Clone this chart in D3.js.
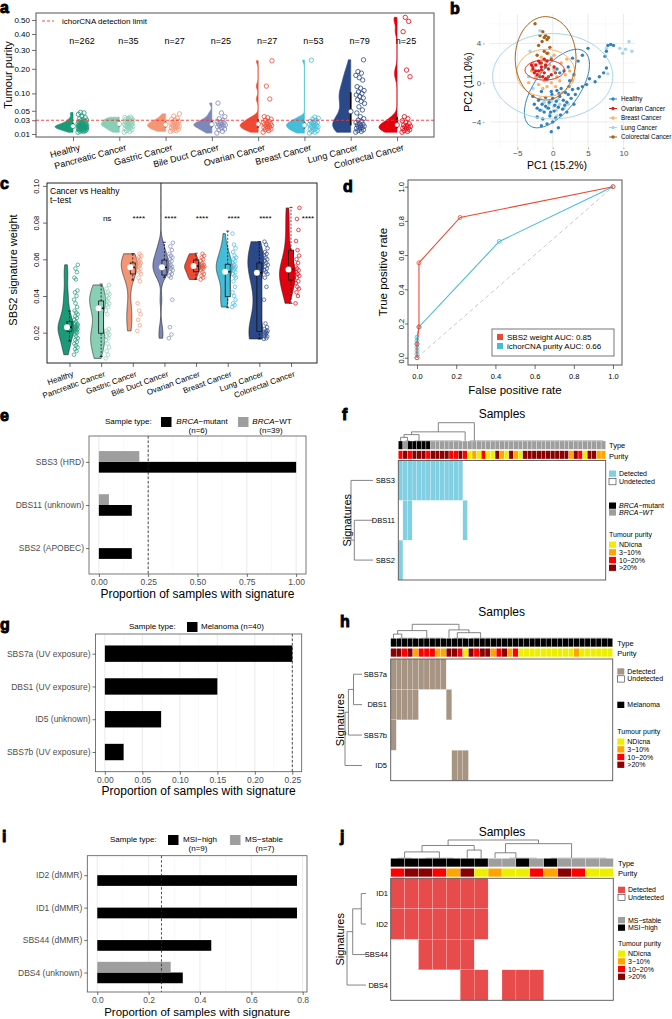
<!DOCTYPE html>
<html>
<head>
<meta charset="utf-8">
<script src="https://cdn.jsdelivr.net/npm/d3@7/dist/d3.min.js"></script>
<style>
  body { margin: 0; background: #fff; }
  svg text { font-family: "Liberation Sans", Arial, Helvetica, sans-serif; }
</style>
</head>
<body>
<div id="figure"></div>
<script>
// ---------------- data: panels a and c ----------------
var cats = ["Healthy", "Pancreatic Cancer", "Gastric Cancer", "Bile Duct Cancer",
            "Ovarian Cancer", "Breast Cancer", "Lung Cancer", "Colorectal Cancer"];
var catColors = ["#1b9a7a", "#88cfb6", "#f29676", "#7d88ba", "#ec4a33", "#45bcd8", "#2b4888", "#e3000f"];
var nLabels = ["n=262", "n=35", "n=27", "n=25", "n=27", "n=53", "n=79", "n=25"];
var purityTicks = [0.01, 0.03, 0.05, 0.10, 0.20, 0.30, 0.40, 0.50];
var ichorLimit = 0.03;

var purityHealthy = [0.012, 0.013, 0.013, 0.014, 0.014, 0.015, 0.015, 0.015, 0.016, 0.016, 0.016, 0.017, 0.017,
    0.017, 0.018, 0.018, 0.018, 0.018, 0.019, 0.019, 0.019, 0.019, 0.02, 0.02, 0.02, 0.02, 0.021, 0.021, 0.021,
    0.022, 0.022, 0.022, 0.023, 0.023, 0.024, 0.024, 0.025, 0.025, 0.026, 0.027, 0.028, 0.029, 0.03, 0.031,
    0.033, 0.035, 0.038, 0.042, 0.045, 0.046];
var purityPancreatic = [0.012, 0.013, 0.014, 0.015, 0.016, 0.017, 0.018, 0.019, 0.02, 0.02, 0.021, 0.022, 0.022,
    0.023, 0.024, 0.025, 0.025, 0.026, 0.027, 0.028, 0.029, 0.03, 0.031, 0.032, 0.033, 0.034, 0.035, 0.036];
var purityGastric = [0.013, 0.014, 0.015, 0.016, 0.017, 0.018, 0.019, 0.02, 0.02, 0.021, 0.022, 0.023, 0.024,
    0.025, 0.026, 0.027, 0.028, 0.03, 0.032, 0.034, 0.038, 0.043];
var purityBile = [0.011, 0.013, 0.015, 0.016, 0.018, 0.019, 0.02, 0.021, 0.022, 0.023, 0.024, 0.025, 0.026,
    0.028, 0.03, 0.033, 0.037, 0.045, 0.07];
var purityOvarian = [0.012, 0.014, 0.015, 0.016, 0.017, 0.018, 0.019, 0.02, 0.021, 0.022, 0.023, 0.024, 0.025,
    0.026, 0.028, 0.03, 0.032, 0.035, 0.037, 0.082, 0.126, 0.24];
var purityBreast = [0.011, 0.012, 0.013, 0.014, 0.015, 0.016, 0.017, 0.018, 0.019, 0.02, 0.02, 0.021, 0.022,
    0.023, 0.024, 0.025, 0.026, 0.027, 0.028, 0.03, 0.032, 0.034, 0.036, 0.243];
var purityLung = [0.012, 0.013, 0.014, 0.015, 0.016, 0.017, 0.018, 0.019, 0.02, 0.021, 0.022, 0.023, 0.024,
    0.026, 0.028, 0.03, 0.033, 0.037, 0.045, 0.052, 0.06, 0.069, 0.075, 0.08, 0.085, 0.09, 0.095, 0.1, 0.105,
    0.11, 0.118, 0.124, 0.15, 0.16, 0.17, 0.18, 0.187, 0.245];
var purityColorectal = [0.012, 0.013, 0.014, 0.015, 0.016, 0.017, 0.018, 0.019, 0.02, 0.021, 0.022, 0.024,
    0.026, 0.029, 0.033, 0.037, 0.164, 0.194, 0.416, 0.49, 0.52];
var puritySets = [purityHealthy, purityPancreatic, purityGastric, purityBile,
                  purityOvarian, purityBreast, purityLung, purityColorectal];

var weightTicks = [0.02, 0.04, 0.06, 0.08, 0.10];
var weightHealthy = [0.008, 0.01, 0.011, 0.012, 0.013, 0.014, 0.015, 0.016, 0.017, 0.018, 0.019, 0.02, 0.02,
    0.021, 0.021, 0.022, 0.022, 0.022, 0.023, 0.023, 0.023, 0.024, 0.024, 0.025, 0.025, 0.026, 0.027, 0.028,
    0.029, 0.03, 0.031, 0.032, 0.034, 0.036, 0.038, 0.04, 0.042, 0.043, 0.049, 0.05, 0.053, 0.055, 0.057];
var weightPancreatic = [0.006, 0.008, 0.01, 0.012, 0.014, 0.016, 0.017, 0.018, 0.019, 0.02, 0.021, 0.022, 0.03,
    0.032, 0.034, 0.035, 0.036, 0.037, 0.038, 0.039, 0.04, 0.041, 0.042, 0.044, 0.046];
var weightGastric = [0.021, 0.024, 0.027, 0.03, 0.032, 0.036, 0.048, 0.05, 0.052, 0.053, 0.054, 0.055, 0.056,
    0.056, 0.057, 0.058, 0.058, 0.059, 0.06, 0.06, 0.061, 0.062, 0.063];
var weightBile = [0.017, 0.019, 0.023, 0.038, 0.05, 0.051, 0.052, 0.053, 0.054, 0.055, 0.056, 0.056, 0.057,
    0.058, 0.059, 0.06, 0.061, 0.062, 0.063, 0.065, 0.067, 0.069, 0.115];
var weightOvarian = [0.049, 0.05, 0.051, 0.052, 0.053, 0.054, 0.055, 0.055, 0.056, 0.056, 0.057, 0.057, 0.058,
    0.059, 0.06, 0.061, 0.062, 0.063];
var weightBreast = [0.034, 0.035, 0.036, 0.038, 0.04, 0.042, 0.045, 0.048, 0.05, 0.051, 0.052, 0.053, 0.054,
    0.055, 0.055, 0.056, 0.056, 0.057, 0.058, 0.059, 0.06, 0.061, 0.062, 0.064, 0.066, 0.068, 0.074];
var weightLung = [0.0166, 0.017, 0.018, 0.018, 0.019, 0.019, 0.02, 0.02, 0.021, 0.021, 0.022, 0.023, 0.025,
    0.038, 0.045, 0.05, 0.052, 0.053, 0.054, 0.055, 0.056, 0.057, 0.058, 0.059, 0.06, 0.061, 0.062, 0.063,
    0.064, 0.066, 0.068, 0.0696];
var weightColorectal = [0.036, 0.04, 0.042, 0.044, 0.045, 0.047, 0.048, 0.05, 0.051, 0.052, 0.053, 0.054,
    0.055, 0.056, 0.058, 0.06, 0.062, 0.065, 0.07, 0.076, 0.082, 0.088];
var weightSets = [weightHealthy, weightPancreatic, weightGastric, weightBile,
                  weightOvarian, weightBreast, weightLung, weightColorectal];
// whisker low, Q1, median, Q3, whisker high
var weightBox = [[0.0155, 0.0206, 0.023, 0.026, 0.0318], [0.007, 0.0197, 0.0333, 0.0373, 0.0465],
    [0.0487, 0.052, 0.0556, 0.058, 0.063], [0.0502, 0.0514, 0.0556, 0.0596, 0.0693],
    [0.0491, 0.0532, 0.0563, 0.0596, 0.0633], [0.0336, 0.0396, 0.0532, 0.0573, 0.0754],
    [0.0166, 0.0206, 0.0527, 0.058, 0.0696], [0.036, 0.0487, 0.0545, 0.065, 0.0883]];
var weightSig = ["", "ns", "****", "****", "****", "****", "****", "****"];

// ---------------- data: panel b ----------------
var pcaGroups = ["Healthy", "Ovarian Cancer", "Breast Cancer", "Lung Cancer", "Colorectal Cancer"];
var pcaColors = ["#3182bd", "#e31a1c", "#fdae61", "#a6d5ec", "#a6611a"];
var pcaXTicks = [-5, 0, 5, 10];
var pcaYTicks = [-4, 0, 4];
var pcaHealthy = [[-2.0, -1.8], [-1.5, -2.2], [-1.0, -1.5], [-0.5, -2.0], [0, -1.6], [0.5, -1.9], [1.0, -1.4],
    [1.5, -1.8], [-1.8, -2.8], [-1.2, -3.0], [-0.6, -2.6], [0.2, -2.9], [0.8, -2.5], [1.4, -2.7], [-2.2, -3.5],
    [-1.4, -3.7], [-0.4, -3.4], [0.4, -3.6], [1.1, -3.3], [-0.8, -4.2], [0.0, -4.0], [-1.6, -4.4], [0.6, -0.8],
    [1.2, -0.6], [1.8, -1.0], [2.3, -0.4], [2.8, -0.7], [-0.2, -0.9], [-1.6, -0.9], [2.0, -2.0], [2.6, -1.6],
    [3.2, -1.2], [3.6, -0.6], [4.2, -0.4], [4.8, -0.2], [5.2, 0.4], [6.0, 0.1], [6.6, 0.6], [7.2, 1.0],
    [7.8, 3.8], [8.2, 3.9], [8.6, 3.8], [7.6, 3.2], [7.4, 2.7], [7.6, 1.5], [5.0, 3.5], [4.2, 2.8], [3.6, 2.2],
    [2.8, 2.5], [2.2, 1.6], [1.6, 1.2], [1.0, 1.0], [0.6, 1.4], [3.0, 0.8], [2.4, 0.2], [-0.8, 0.4],
    [-2.6, -2.2], [-2.8, -1.4], [-0.2, -5.0], [0.8, -4.6], [2.0, -3.0], [3.0, -2.2], [-1.0, -2.4], [0.3, -2.3],
    [-0.3, -3.0], [1.7, -2.3], [2.2, -1.2], [-2.2, -2.6], [0.9, -1.1], [-0.1, -1.2]];
var pcaOvarian = [[-2.8, 1.4], [-2.4, 1.8], [-2.0, 1.2], [-1.6, 1.6], [-1.2, 1.0], [-2.2, 0.8], [-1.8, 2.0],
    [-1.0, 1.8], [-0.6, 1.4], [-2.6, 1.0], [-1.4, 0.6], [-2.0, 2.2], [-1.0, 0.4], [-0.2, 0.8], [-1.6, 1.3],
    [-2.4, 1.2], [-0.8, 2.2], [0.2, 1.6], [-1.2, 2.4], [-3.0, 1.8]];
var pcaBreast = [[-1.0, 2.2], [-1.6, 2.6], [-0.4, 1.8], [0.2, 1.4], [-2.4, 0.6], [-3.0, 1.2], [-2.0, -0.2],
    [-1.2, 0.2], [0.6, 0.6], [1.0, 0.2], [1.8, 0.8], [2.4, 1.2], [-0.8, -0.4], [-0.2, 0.0], [0.4, -0.4],
    [-1.8, 1.0], [-2.8, 2.0], [-0.6, 3.0], [0.2, 2.8], [1.2, 2.0], [2.0, 2.4], [-1.4, -0.6], [2.8, 0.2], [-3.4, 0.0]];
var pcaLung = [[9.5, 3.5], [10.3, 3.4], [10.8, 4.2], [11.2, 3.2], [9.9, 3.0], [7.6, 3.5], [7.8, 0.9],
    [-0.5, -2.2], [-0.8, -2.6], [0.2, -2.4], [0.5, -2.8], [-1.2, -2.0], [1.0, -2.2], [-0.2, -1.9], [0.8, -1.7],
    [-1.5, -2.8], [-0.4, -3.2], [0.6, -3.4], [-1.8, -1.6], [1.6, -2.6], [-2.2, 1.8], [-2.6, 1.2], [-1.2, 1.6],
    [-3.2, 3.2], [-0.2, 2.6], [-3.4, 0.6], [-1.8, 5.3], [0.2, 1.2], [-0.8, 0.2], [1.4, -1.0], [2.2, -2.2], [-2.8, -0.6]];
var pcaColorectal = [[-2.5, 6.0], [-1.8, 4.8], [-1.4, 5.2], [-1.2, 4.6], [-0.8, 4.4], [-1.0, 4.8], [-1.5, 4.2],
    [-0.6, 4.6], [-2.0, 3.8], [-1.2, 3.2], [-0.4, 3.6], [-0.8, 3.0], [-2.2, 2.8], [-1.6, 2.0], [-0.2, 2.4],
    [-1.0, 1.6], [-2.8, 1.6], [-0.6, 0.6], [0.4, 1.0], [-1.8, 0.6]];
var pcaSets = [pcaHealthy, pcaOvarian, pcaBreast, pcaLung, pcaColorectal];
// confidence ellipses: centre, semi-axes, rotation in degrees (data units)
var ellCentres = [[0.6, -0.6], [-1.13, 1.29], [-0.97, 0.99], [0, 0.65], [-1.0, 2.48]];
var ellAxes = [[5.49, 2.66], [2.78, 1.02], [4.13, 2.41], [8.5, 4.35], [4.3, 4.25]];
var ellAngles = [38.5, 0, 0, 0, 0];

// ---------------- data: panel d ----------------
var rocSbs2 = [[0, 0], [0, 0.08], [0.01, 0.18], [0.01, 0.555], [0.22, 0.82], [1, 1]];
var rocIchor = [[0, 0], [0, 0.02], [0, 0.04], [0, 0.06], [0, 0.08], [0, 0.1], [0, 0.12], [0.01, 0.18],
    [0.42, 0.68], [1, 1]];
var rocNames = ["SBS2 weight AUC: 0.85", "ichorCNA purity AUC: 0.66"];
var rocColors = ["#ec4a33", "#45bcd8"];
var rocTicks = [0, 0.2, 0.4, 0.6, 0.8, 1.0];

// ---------------- data: panels e, g, i ----------------
var eSigs = ["SBS3 (HRD)", "DBS11 (unknown)", "SBS2 (APOBEC)"];
var eMutant = [1.0, 0.167, 0.167];
var eWildType = [0.205, 0.051, null];
var eTicks = [0, 0.25, 0.5, 0.75, 1.0];

var gSigs = ["SBS7a (UV exposure)", "DBS1 (UV exposure)", "ID5 (unknown)", "SBS7b (UV exposure)"];
var gMelanoma = [0.25, 0.15, 0.075, 0.025];
var gTicks = [0, 0.05, 0.10, 0.15, 0.20, 0.25];

var iSigs = ["ID2 (dMMR)", "ID1 (dMMR)", "SBS44 (dMMR)", "DBS4 (unknown)"];
var iMsiHigh = [0.778, 0.778, 0.444, 0.333];
var iMsStable = [null, null, null, 0.286];
var iTicks = [0, 0.2, 0.4, 0.6, 0.8];
var detectThreshold = 0.25;

// ---------------- data: heatmaps f, h, j ----------------
var purityNames = ["NDicna", "3\u221210%", "10\u221220%", ">20%"];
var purityColors = ["#eeee00", "#ffa500", "#ff0000", "#8b0000"];

var fRows = ["SBS3", "DBS11", "SBS2"];
var fType = "MWMMMMMWWWWWWWWWWWWWWWWWWWWWWWWWWWWWWWWWWWWWW";
var fPurity = "232333233332232010200310310333333333313203311";
var fDetected = [d3.range(0, 14), [1, 2, 14], [0]];
var fColTree = {h: 1, l: {h: 0.5, l: {h: 0.35, l: {h: 0.2, l: 0, r: {flat: [1, 2], at: 2}},
    r: {flat: [3, 13], at: 4.5}}, r: 14}, r: {flat: [15, 44], at: 16.5}};
var fRowTree = {h: 1, l: 0, r: {h: 0.85, l: 1, r: 2}};

var hRows = ["SBS7a", "DBS1", "SBS7b", "ID5"];
var hType = "MMMMMMMMMMMMMMMMMMMMMMMMMMMMMMMMMMMMMMMM";
var hPurity = "3323122211332032331231200000000001000000";
var hDetected = [d3.range(0, 10), [0, 1, 2, 3, 4, 10], [0], [11, 12, 13]];
var hColTree = {h: 1, l: {h: 0.55, l: {h: 0.3, l: 0, r: {flat: [1, 4], at: 2}}, r: {flat: [5, 9], at: 6.5}},
    r: {h: 0.6, l: 10, r: {h: 0.4, l: {flat: [11, 13], at: 12}, r: {flat: [14, 39], at: 16.2}}}};
var hRowTree = {h: 1, l: {h: 0.8, l: {h: 0.5, l: 0, r: 1}, r: 2}, r: 3};

var jRows = ["ID1", "ID2", "SBS44", "DBS4"];
var jType = "HHHHHHHSSHSHSSSS";
var jPurity = "2332130100213200";
var jDetected = [d3.range(0, 7), d3.range(0, 7), [2, 3, 4, 5], [5, 6, 8, 9, 10]];
var jColTree = {h: 1, l: {h: 0.7, l: {h: 0.35, l: {flat: [0, 1], at: 1}, r: {flat: [2, 4], at: 3.5}},
    r: {h: 0.45, l: 5, r: 6}}, r: {h: 0.8, l: {h: 0.3, l: {flat: [8, 10], at: 9}, r: 7},
    r: {flat: [11, 15], at: 13}}};
var jRowTree = {h: 1, l: {h: 0.7, l: {h: 0.25, l: 0, r: 1}, r: 2}, r: 3};

// ---------------- helpers ----------------
var svg = d3.select("#figure").append("svg")
    .attr("width", 672).attr("height", 1019)
    .style("display", "block").style("background", "#fff");

function label(parent, x, y, str, size, anchor, fill) {
    return parent.append("text")
        .attr("x", x).attr("y", y)
        .attr("font-size", size)
        .attr("text-anchor", anchor || "start")
        .attr("fill", fill || "#000")
        .text(str);
}

function panelLetter(ch, x, y) {
    label(svg, x, y, ch, 16).attr("font-weight", "bold")
        .attr("stroke", "#000").attr("stroke-width", 0.9);
}

// deterministic spread of the sample dots beside each violin
function jitter(i) { return (i * 0.6180339887) % 1; }

// Silverman rule of thumb, as R's bw.nrd0
function bandwidth(vals) {
    var s = vals.slice().sort(d3.ascending);
    var sd = d3.deviation(s);
    var iqr = (d3.quantile(s, 0.75) - d3.quantile(s, 0.25)) / 1.34;
    var lo = Math.min(sd, iqr > 0 ? iqr : sd);
    return 0.9 * lo * Math.pow(s.length, -0.2);
}

function density(vals, bw, lo, hi, n) {
    var step = (hi - lo) / (n - 1);
    return d3.range(n).map(function(k) {
        var g = lo + k * step, s = 0;
        vals.forEach(function(v) { var u = (g - v) / bw; s += Math.exp(-0.5 * u * u); });
        return [g, s / (vals.length * bw)];
    });
}

function tidyAxis(ax, size, colour) {
    ax.attr("font-family", null).attr("font-size", size);
    ax.select(".domain").remove();
    ax.selectAll(".tick line").attr("stroke", "#333").attr("stroke-width", 0.7);
    ax.selectAll(".tick text").attr("fill", colour || "#000");
}

function frame(g, x0, y0, x1, y1, colour, width) {
    g.append("rect").attr("x", x0).attr("y", y0)
        .attr("width", x1 - x0).attr("height", y1 - y0)
        .attr("fill", "none").attr("stroke", colour || "#333").attr("stroke-width", width || 0.8);
}

function clipTo(g, id, x0, y0, x1, y1) {
    g.append("clipPath").attr("id", id).append("rect")
        .attr("x", x0).attr("y", y0).attr("width", x1 - x0).attr("height", y1 - y0);
    return g.append("g").attr("clip-path", "url(#" + id + ")");
}

// ---------------- a: tumour purity ----------------
function drawPurity() {
    var g = svg.append("g");
    var fx0 = 36, fx1 = 434, fy0 = 13, fy1 = 137;
    var x = d3.scalePoint().domain(cats).range([73, 397]);
    var y = d3.scaleSqrt().domain([0.01, 0.5]).range([134, 20]);
    var plot = clipTo(g, "clipA", fx0, fy0, fx1, fy1);

    puritySets.forEach(function(vals, i) {
        var cx = x(cats[i]), col = catColors[i];
        var t = vals.map(Math.sqrt);
        var dens = density(t, bandwidth(t), d3.min(t), d3.max(t), 140);
        var k = 18 / d3.max(dens, function(d) { return d[1]; });
        var area = d3.area()
            .y(function(d) { return y(d[0] * d[0]); })
            .x0(function(d) { return cx - d[1] * k; })
            .x1(cx);
        plot.append("path").datum(dens).attr("d", area)
            .attr("fill", col).attr("stroke", col).attr("stroke-width", 0.7);
        var s = vals.slice().sort(d3.ascending);
        plot.append("line").attr("x1", cx).attr("x2", cx)
            .attr("y1", y(d3.quantile(s, 0.25))).attr("y2", y(d3.quantile(s, 0.75)))
            .attr("stroke", "#000").attr("stroke-width", 1.6);
        plot.selectAll(null).data(vals).enter().append("circle")
            .attr("cx", function(d, j) { return cx + 5 + jitter(j) * 9; })
            .attr("cy", function(d) { return y(d); })
            .attr("r", 2.2).attr("fill", "none").attr("stroke", col).attr("stroke-width", 0.8);
        plot.append("circle").attr("cx", cx).attr("cy", y(d3.median(s))).attr("r", 2.4)
            .attr("fill", "#fff").attr("stroke", col).attr("stroke-width", 0.8);
        label(g, cx + 9, 44, nLabels[i], 9, "middle");
    });

    plot.append("line").attr("x1", fx0).attr("x2", fx1)
        .attr("y1", y(ichorLimit)).attr("y2", y(ichorLimit))
        .attr("stroke", "#ff3030").attr("stroke-width", 0.9).attr("stroke-dasharray", "3,2");
    frame(g, fx0, fy0, fx1, fy1, "#555", 1);

    g.append("line").attr("x1", 42).attr("x2", 54).attr("y1", 21).attr("y2", 21)
        .attr("stroke", "#ff3030").attr("stroke-width", 0.9).attr("stroke-dasharray", "3,2");
    label(g, 62, 24, "ichorCNA detection limit", 8);

    var ay = g.append("g").attr("transform", "translate(" + fx0 + ",0)")
        .call(d3.axisLeft(y).tickValues(purityTicks).tickFormat(d3.format(".2f")).tickSize(4).tickPadding(2));
    tidyAxis(ay, 8);
    var ax = g.append("g").attr("transform", "translate(0," + fy1 + ")")
        .call(d3.axisBottom(x).tickSize(4));
    tidyAxis(ax, 9);
    ax.selectAll(".tick text").attr("y", 0).attr("dy", 0).attr("text-anchor", "end")
        .attr("transform", "translate(7,13) rotate(-15)");
    label(g, 0, 0, "Tumour purity", 11, "middle").attr("transform", "translate(12,75) rotate(-90)");
}

// ---------------- b: PCA ----------------
function drawPca() {
    var g = svg.append("g");
    var x = d3.scaleLinear().domain([-8.9, 11.7]).range([489.8, 635.4]);
    var y = d3.scaleLinear().domain([-6.6, 7]).range([147.4, 14]);
    var xr = x.range(), yr = y.range();
    var minorX = [-7.5, -2.5, 2.5, 7.5], minorY = [-6, -2, 2, 6];
    minorX.forEach(function(v) {
        g.append("line").attr("x1", x(v)).attr("x2", x(v)).attr("y1", yr[0]).attr("y2", yr[1])
            .attr("stroke", "#f2f2f2").attr("stroke-width", 0.5);
    });
    minorY.forEach(function(v) {
        g.append("line").attr("y1", y(v)).attr("y2", y(v)).attr("x1", xr[0]).attr("x2", xr[1])
            .attr("stroke", "#f2f2f2").attr("stroke-width", 0.5);
    });
    pcaXTicks.forEach(function(v) {
        g.append("line").attr("x1", x(v)).attr("x2", x(v)).attr("y1", yr[0]).attr("y2", yr[1])
            .attr("stroke", "#e6e6e6").attr("stroke-width", 0.8);
    });
    pcaYTicks.forEach(function(v) {
        g.append("line").attr("y1", y(v)).attr("y2", y(v)).attr("x1", xr[0]).attr("x2", xr[1])
            .attr("stroke", "#e6e6e6").attr("stroke-width", 0.8);
    });

    var drawOrder = [3, 0, 2, 4, 1];
    drawOrder.forEach(function(gi) {
        g.selectAll(null).data(pcaSets[gi]).enter().append("circle")
            .attr("cx", function(d) { return x(d[0]); })
            .attr("cy", function(d) { return y(d[1]); })
            .attr("r", 1.7).attr("fill", pcaColors[gi]);
    });

    var line = d3.line().x(function(d) { return x(d[0]); }).y(function(d) { return y(d[1]); });
    ellCentres.forEach(function(c, gi) {
        var a = ellAxes[gi][0], b = ellAxes[gi][1], th = ellAngles[gi] * Math.PI / 180;
        var pts = d3.range(0, 2 * Math.PI + 0.01, Math.PI / 60).map(function(t) {
            return [c[0] + a * Math.cos(t) * Math.cos(th) - b * Math.sin(t) * Math.sin(th),
                    c[1] + a * Math.cos(t) * Math.sin(th) + b * Math.sin(t) * Math.cos(th)];
        });
        g.append("path").attr("d", line(pts)).attr("fill", "none")
            .attr("stroke", pcaColors[gi]).attr("stroke-width", 1);
    });

    var ax = g.append("g").attr("transform", "translate(0," + yr[0] + ")")
        .call(d3.axisBottom(x).tickValues(pcaXTicks).tickSize(2).tickPadding(1));
    tidyAxis(ax, 8, "#4d4d4d");
    ax.selectAll(".tick line").attr("stroke", "#888");
    var ay = g.append("g").attr("transform", "translate(" + (xr[0] - 5) + ",0)")
        .call(d3.axisLeft(y).tickValues(pcaYTicks).tickSize(2).tickPadding(1.5));
    tidyAxis(ay, 8, "#4d4d4d");
    ay.selectAll(".tick line").attr("stroke", "#888");
    label(g, 557, 168.5, "PC1 (15.2%)", 10.5, "middle");
    label(g, 0, 0, "PC2 (11.0%)", 10.5, "middle").attr("transform", "translate(472,82) rotate(-90)");

    pcaGroups.forEach(function(name, gi) {
        var ly = 99 + gi * 9.5;
        g.append("line").attr("x1", 609).attr("x2", 617).attr("y1", ly).attr("y2", ly)
            .attr("stroke", pcaColors[gi]).attr("stroke-width", 1);
        g.append("circle").attr("cx", 613).attr("cy", ly).attr("r", 1.7).attr("fill", pcaColors[gi]);
        label(g, 621, ly + 2.3, name, 6.3);
    });
}

// ---------------- c: SBS2 signature weight ----------------
function drawWeights() {
    var g = svg.append("g");
    var fx0 = 47, fx1 = 317, fy0 = 183, fy1 = 363;
    var x = d3.scalePoint().domain(cats).range([69.5, 291]);
    var y = d3.scaleLinear().domain([0.02, 0.10]).range([332.7, 185.9]);
    var plot = clipTo(g, "clipC", fx0, fy0, fx1, fy1);

    weightSets.forEach(function(vals, i) {
        var cx = x(cats[i]), col = catColors[i], b = weightBox[i];
        var dens = density(vals, bandwidth(vals), d3.min(vals), d3.max(vals), 160);
        var k = 8 / d3.max(dens, function(d) { return d[1]; });
        var vc = cx - 3.5;
        var area = d3.area()
            .y(function(d) { return y(d[0]); })
            .x0(function(d) { return vc - d[1] * k; })
            .x1(function(d) { return vc + d[1] * k; });
        plot.append("path").datum(dens).attr("d", area)
            .attr("fill", col).attr("stroke", "#222").attr("stroke-width", 0.6);
        // whiskers
        [[b[0], b[1]], [b[3], b[4]]].forEach(function(w) {
            plot.append("line").attr("x1", cx).attr("x2", cx).attr("y1", y(w[0])).attr("y2", y(w[1]))
                .attr("stroke", "#000").attr("stroke-width", 0.7).attr("stroke-dasharray", "2,1.5");
        });
        [b[0], b[4]].forEach(function(v) {
            plot.append("line").attr("x1", cx - 1.5).attr("x2", cx + 1.5).attr("y1", y(v)).attr("y2", y(v))
                .attr("stroke", "#000").attr("stroke-width", 0.7);
        });
        plot.append("rect").attr("x", cx - 2.5).attr("width", 5)
            .attr("y", y(b[3])).attr("height", y(b[1]) - y(b[3]))
            .attr("fill", col).attr("stroke", "#111").attr("stroke-width", 0.8);
        plot.append("line").attr("x1", cx - 2.5).attr("x2", cx + 2.5).attr("y1", y(b[2])).attr("y2", y(b[2]))
            .attr("stroke", "#000").attr("stroke-width", 1.4);
        plot.selectAll(null).data(vals).enter().append("circle")
            .attr("cx", function(d, j) { return cx + 4.5 + jitter(j) * 4; })
            .attr("cy", function(d) { return y(d); })
            .attr("r", 1.8).attr("fill", "none").attr("stroke", col).attr("stroke-width", 0.7);
        plot.append("circle").attr("cx", cx - 2.5).attr("cy", y(b[2])).attr("r", 3).attr("fill", "#fff");
        // the last star label sits clear of the colorectal dots
        var off = i === cats.length - 1 ? 17 : 6;
        label(g, cx + off, 221, weightSig[i], 8, "middle");
    });
    frame(g, fx0, fy0, fx1, fy1, "#222", 1);
    label(g, 50, 194, "Cancer vs Healthy", 8.5);
    label(g, 50, 203, "t\u2212test", 8.5);

    var ay = g.append("g").attr("transform", "translate(" + fx0 + ",0)")
        .call(d3.axisLeft(y).tickValues(weightTicks).tickFormat(d3.format(".2f")).tickSize(4));
    tidyAxis(ay, 7.5);
    ay.selectAll(".tick text").attr("x", 0).attr("dy", 0).attr("y", -8).attr("text-anchor", "middle")
        .attr("transform", "rotate(-90)");
    var ax = g.append("g").attr("transform", "translate(0," + fy1 + ")")
        .call(d3.axisBottom(x).tickSize(4));
    tidyAxis(ax, 8);
    ax.selectAll(".tick text").attr("y", 0).attr("dy", 0).attr("text-anchor", "end")
        .attr("transform", "translate(4,13) rotate(-20)");
    label(g, 0, 0, "SBS2 signature weight", 11, "middle").attr("transform", "translate(17,270) rotate(-90)");
}

// ---------------- d: ROC ----------------
function drawRoc() {
    var g = svg.append("g");
    var fx0 = 408, fx1 = 622, fy0 = 180, fy1 = 365;
    var x = d3.scaleLinear().domain([0, 1]).range([417, 613]);
    var y = d3.scaleLinear().domain([0, 1]).range([357.7, 186.7]);
    g.append("line").attr("x1", x(0)).attr("y1", y(0)).attr("x2", x(1)).attr("y2", y(1))
        .attr("stroke", "#c8c8c8").attr("stroke-width", 1).attr("stroke-dasharray", "4,3");
    var line = d3.line().x(function(d) { return x(d[0]); }).y(function(d) { return y(d[1]); });
    [rocIchor, rocSbs2].forEach(function(pts, k) {
        var col = k === 0 ? rocColors[1] : rocColors[0];
        g.append("path").attr("d", line(pts)).attr("fill", "none").attr("stroke", col).attr("stroke-width", 1.1);
        g.selectAll(null).data(pts).enter().append("circle")
            .attr("cx", function(d) { return x(d[0]); }).attr("cy", function(d) { return y(d[1]); })
            .attr("r", 2).attr("fill", "none").attr("stroke", col).attr("stroke-width", 0.8);
    });
    frame(g, fx0, fy0, fx1, fy1, "#555", 1);
    var ax = g.append("g").attr("transform", "translate(0," + fy1 + ")")
        .call(d3.axisBottom(x).tickValues(rocTicks).tickFormat(d3.format(".1f")).tickSize(4).tickPadding(5));
    tidyAxis(ax, 7.5);
    var ay = g.append("g").attr("transform", "translate(" + fx0 + ",0)")
        .call(d3.axisLeft(y).tickValues(rocTicks).tickFormat(d3.format(".1f")).tickSize(3));
    tidyAxis(ay, 7.5);
    ay.selectAll(".tick text").attr("x", 0).attr("dy", 0).attr("y", -4.5).attr("text-anchor", "middle")
        .attr("transform", "rotate(-90)");
    label(g, 515, 394, "False positive rate", 11.5, "middle");
    label(g, 0, 0, "True positive rate", 11.5, "middle").attr("transform", "translate(387,272) rotate(-90)");

    frame(g, 492, 329, 614, 356, "#555", 0.8);
    rocNames.forEach(function(name, k) {
        var ly = 334 + k * 9;
        g.append("rect").attr("x", 497).attr("y", ly).attr("width", 6).attr("height", 6).attr("fill", rocColors[k]);
        label(g, 507, ly + 5.8, name, 8);
    });
}

// ---------------- e, g, i: proportion bar charts ----------------
function drawBars(cfg) {
    var g = svg.append("g");
    var pad = 0.05 * d3.max(cfg.series[0].vals);
    var x = d3.scaleLinear().domain([-pad, d3.max(cfg.series[0].vals) + pad]).range([cfg.x0, cfg.x1]);
    var n = cfg.sigs.length;
    var y = d3.scaleLinear().domain([0.4, n + 0.6]).range([cfg.y0, cfg.y1]);
    var step = y(2) - y(1);

    // grid
    cfg.ticks.forEach(function(t, k) {
        if (k > 0) {
            var m = (t + cfg.ticks[k - 1]) / 2;
            g.append("line").attr("x1", x(m)).attr("x2", x(m)).attr("y1", cfg.y0).attr("y2", cfg.y1)
                .attr("stroke", "#f3f3f3").attr("stroke-width", 0.5);
        }
        g.append("line").attr("x1", x(t)).attr("x2", x(t)).attr("y1", cfg.y0).attr("y2", cfg.y1)
            .attr("stroke", "#e4e4e4").attr("stroke-width", 0.8);
    });

    cfg.sigs.forEach(function(s, i) {
        var cy = y(i + 1);
        cfg.series.forEach(function(ser) {
            var v = ser.vals[i];
            if (v === null) return;
            var top = ser.slot === "bottom" ? cy : cy - cfg.width * step / 2;
            var h = ser.slot === "centre" ? cfg.width * step : cfg.width * step / 2;
            g.append("rect").attr("x", x(0)).attr("width", x(v) - x(0))
                .attr("y", top).attr("height", h).attr("fill", ser.color);
        });
    });
    g.append("line").attr("x1", x(detectThreshold)).attr("x2", x(detectThreshold))
        .attr("y1", cfg.y0).attr("y2", cfg.y1)
        .attr("stroke", "#222").attr("stroke-width", 0.8).attr("stroke-dasharray", "2.5,2");
    frame(g, cfg.x0, cfg.y0, cfg.x1, cfg.y1, "#555", 0.8);

    var ax = g.append("g").attr("transform", "translate(0," + cfg.y1 + ")")
        .call(d3.axisBottom(x).tickValues(cfg.ticks).tickFormat(d3.format(cfg.fmt)).tickSize(3).tickPadding(2));
    tidyAxis(ax, 8.5, "#4d4d4d");
    var ay = g.append("g").attr("transform", "translate(" + cfg.x0 + ",0)")
        .call(d3.axisLeft(y).tickValues(d3.range(1, n + 1))
            .tickFormat(function(d) { return cfg.sigs[d - 1]; }).tickSize(3).tickPadding(2));
    tidyAxis(ay, 8.5, "#4d4d4d");
    label(g, (cfg.x0 + cfg.x1) / 2, cfg.titleY, "Proportion of samples with signature", cfg.titleSize || 12, "middle");

    // legend above the panel
    var L = cfg.legend;
    label(g, L.x, L.y, "Sample type:", 8);
    L.items.forEach(function(it) {
        g.append("rect").attr("x", it.x).attr("y", L.y - 7).attr("width", 10.5).attr("height", 10)
            .attr("fill", it.color);
        var t = g.append("text").attr("x", it.tx).attr("y", L.y).attr("font-size", 8)
            .attr("text-anchor", it.anchor || "start");
        it.parts.forEach(function(p) {
            t.append("tspan").attr("font-style", p[1] ? "italic" : null).text(p[0]);
        });
        if (it.sub) label(g, it.subx, L.y + 8.5, it.sub, 8, "middle");
    });
}

// ---------------- f, h, j: signature heatmaps ----------------
function drawTree(g, node, map) {
    if (typeof node === "number") return {p: node + 0.5, h: 0};
    if (node.flat) {
        var a = map(node.flat[0] + 0.5, 0), b = map(node.flat[1] + 0.5, 0);
        g.append("line").attr("x1", a[0]).attr("y1", a[1]).attr("x2", b[0]).attr("y2", b[1])
            .attr("stroke", "#666").attr("stroke-width", 0.8);
        return {p: node.at, h: 0};
    }
    var L = drawTree(g, node.l, map), R = drawTree(g, node.r, map);
    var pts = [map(L.p, L.h), map(L.p, node.h), map(R.p, node.h), map(R.p, R.h)];
    g.append("path").attr("d", d3.line()(pts)).attr("fill", "none")
        .attr("stroke", "#666").attr("stroke-width", 0.8);
    return {p: (L.p + R.p) / 2, h: node.h};
}

function drawHeatmap(cfg) {
    var g = svg.append("g");
    var nCol = cfg.type.length;
    var xs = d3.scaleBand().domain(d3.range(nCol)).range([cfg.x0, cfg.x1]);
    var ys = d3.scaleBand().domain(d3.range(cfg.rows.length)).range([cfg.heatTop, cfg.heatBottom]);
    var cw = xs.bandwidth(), rh = ys.bandwidth();

    label(g, (cfg.x0 + cfg.x1) / 2, cfg.titleY, "Samples", 12, "middle");

    var hy = d3.scaleLinear().domain([0, 1]).range([cfg.typeTop, cfg.dendTop]);
    drawTree(g, cfg.colTree, function(p, h) { return [cfg.x0 + p * cw, hy(h)]; });
    var hx = d3.scaleLinear().domain([0, 1]).range([cfg.rowDendRight, cfg.rowDendLeft]);
    drawTree(g, cfg.rowTree, function(p, h) { return [hx(h), cfg.heatTop + p * rh]; });

    // annotation rows
    cfg.type.split("").forEach(function(c, i) {
        g.append("rect").attr("x", xs(i)).attr("y", cfg.typeTop).attr("width", cw).attr("height", cfg.annH)
            .attr("fill", cfg.typeColors[c]).attr("stroke", "#fff").attr("stroke-width", 0.3);
    });
    cfg.purity.split("").forEach(function(c, i) {
        g.append("rect").attr("x", xs(i)).attr("y", cfg.purTop).attr("width", cw).attr("height", cfg.annH)
            .attr("fill", purityColors[+c]).attr("stroke", "#fff").attr("stroke-width", 0.3);
    });
    label(g, cfg.legendX, cfg.typeTop + cfg.annH - 1, "Type", 7.5);
    label(g, cfg.legendX, cfg.purTop + cfg.annH - 0.5, "Purity", 7.5);

    // detected cells
    cfg.detected.forEach(function(cols, r) {
        cols.forEach(function(c) {
            g.append("rect").attr("x", xs(c)).attr("y", ys(r)).attr("width", cw).attr("height", rh)
                .attr("fill", cfg.detColor).attr("stroke", "#fff").attr("stroke-width", 0.3)
                .attr("stroke-opacity", 0.6);
        });
        label(g, cfg.rowLabelX, ys(r) + rh / 2 + 2.7, cfg.rows[r], 7.5, "end");
    });
    frame(g, cfg.x0, cfg.heatTop, cfg.x1, cfg.heatBottom, "#555", 0.9);
    label(g, 0, 0, "Signatures", 11, "middle")
        .attr("transform", "translate(" + cfg.sigLabelX + "," + (cfg.heatTop + cfg.heatBottom) / 2 + ") rotate(-90)");

    // legend
    cfg.legend.forEach(function(it) {
        if (it.title) { label(g, cfg.legendX, it.y, it.title, 7); return; }
        g.append("rect").attr("x", cfg.legendX).attr("y", it.y).attr("width", 7).attr("height", 6.3)
            .attr("fill", it.fill).attr("stroke", it.fill === "#fff" ? "#333" : "none").attr("stroke-width", 0.6);
        var t = g.append("text").attr("x", cfg.legendX + 10).attr("y", it.y + 5.6).attr("font-size", 7);
        it.parts.forEach(function(p) {
            t.append("tspan").attr("font-style", p[1] ? "italic" : null).text(p[0]);
        });
    });
}

function purityLegend(y0) {
    var items = [{title: "Tumour purity", y: y0}];
    purityNames.forEach(function(n, k) {
        items.push({fill: purityColors[k], y: y0 + 4.5 + k * 7.7, parts: [[n]]});
    });
    return items;
}

// ---------------- draw everything ----------------
drawPurity();
drawPca();
drawWeights();
drawRoc();

drawBars({
    sigs: eSigs, ticks: eTicks, fmt: ".2f", width: 0.5,
    series: [{vals: eMutant, color: "#000", slot: "bottom"}, {vals: eWildType, color: "#9e9e9e", slot: "top"}],
    x0: 89, x1: 306, y0: 436, y1: 574, titleY: 598,
    legend: {x: 105, y: 424, items: [
        {x: 161, color: "#000", tx: 202, anchor: "middle", parts: [["BRCA", true], ["\u2212mutant"]], sub: "(n=6)", subx: 198},
        {x: 238, color: "#9e9e9e", tx: 272, anchor: "middle", parts: [["BRCA", true], ["\u2212WT"]], sub: "(n=39)", subx: 271}]}
});
drawBars({
    sigs: gSigs, ticks: gTicks, fmt: ".2f", width: 0.5,
    series: [{vals: gMelanoma, color: "#000", slot: "centre"}],
    x0: 95.5, x1: 301.7, y0: 634, y1: 771.7, titleY: 795,
    legend: {x: 129, y: 629, items: [{x: 187, color: "#000", tx: 201, parts: [["Melanoma (n=40)"]]}]}
});
drawBars({
    sigs: iSigs, ticks: iTicks, fmt: ".1f", width: 0.66,
    series: [{vals: iMsiHigh, color: "#000", slot: "bottom"}, {vals: iMsStable, color: "#9e9e9e", slot: "top"}],
    x0: 87.3, x1: 307, y0: 855.7, y1: 992, titleY: 1016, titleSize: 11.5,
    legend: {x: 110, y: 842, items: [
        {x: 168, color: "#000", tx: 200, anchor: "middle", parts: [["MSI\u2212high"]], sub: "(n=9)", subx: 198},
        {x: 230, color: "#9e9e9e", tx: 264, anchor: "middle", parts: [["MS\u2212stable"]], sub: "(n=7)", subx: 265}]}
});

drawHeatmap({
    rows: fRows, type: fType, purity: fPurity, detected: fDetected,
    colTree: fColTree, rowTree: fRowTree,
    typeColors: {M: "#000", W: "#9e9e9e"}, detColor: "#80cfe2",
    x0: 398.3, x1: 605.7, titleY: 418, dendTop: 422.7, typeTop: 441, purTop: 450.7, annH: 8.3,
    heatTop: 460.5, heatBottom: 580, rowDendLeft: 351, rowDendRight: 373, rowLabelX: 395, sigLabelX: 351,
    legendX: 609,
    legend: [{fill: "#80cfe2", y: 470.5, parts: [["Detected"]]}, {fill: "#fff", y: 478.5, parts: [["Undetected"]]},
        {fill: "#000", y: 502.5, parts: [["BRCA", true], ["\u2212mutant"]]},
        {fill: "#9e9e9e", y: 509.3, parts: [["BRCA\u2212WT", true]]}].concat(purityLegend(537))
});
drawHeatmap({
    rows: hRows, type: hType, purity: hPurity, detected: hDetected,
    colTree: hColTree, rowTree: hRowTree,
    typeColors: {M: "#000"}, detColor: "#a89482",
    x0: 390.7, x1: 612.7, titleY: 616, dendTop: 624.3, typeTop: 638.3, purTop: 648.3, annH: 8.6,
    heatTop: 659, heatBottom: 780.7, rowDendLeft: 345, rowDendRight: 362, rowLabelX: 387, sigLabelX: 344,
    legendX: 617.3,
    legend: [{fill: "#a89482", y: 668.3, parts: [["Detected"]]}, {fill: "#fff", y: 675.8, parts: [["Undetected"]]},
        {fill: "#000", y: 701.7, parts: [["Melanoma"]]}].concat(purityLegend(734))
});
drawHeatmap({
    rows: jRows, type: jType, purity: jPurity, detected: jDetected,
    colTree: jColTree, rowTree: jRowTree,
    typeColors: {H: "#000", S: "#9e9e9e"}, detColor: "#e84b4b",
    x0: 390.7, x1: 613.3, titleY: 836, dendTop: 840, typeTop: 858.3, purTop: 868.3, annH: 8.6,
    heatTop: 878.3, heatBottom: 1000.3, rowDendLeft: 347, rowDendRight: 366, rowLabelX: 388, sigLabelX: 344,
    legendX: 618,
    legend: [{fill: "#e84b4b", y: 886.7, parts: [["Detected"]]}, {fill: "#fff", y: 894.3, parts: [["Undetected"]]},
        {fill: "#9e9e9e", y: 917, parts: [["MS\u2212stable"]]},
        {fill: "#000", y: 924.5, parts: [["MSI\u2212high"]]}].concat(purityLegend(946))
});

panelLetter("a", 0, 13);
panelLetter("b", 450, 14);
panelLetter("c", 0, 189);
panelLetter("d", 343, 192);
panelLetter("e", 0, 421);
panelLetter("f", 342, 420);
panelLetter("g", 0, 630);
panelLetter("h", 340, 627);
panelLetter("i", 2, 842);
panelLetter("j", 340, 842);
</script>
</body>
</html>
